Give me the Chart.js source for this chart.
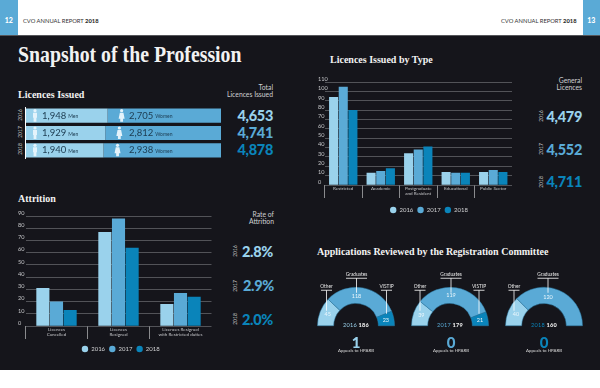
<!DOCTYPE html>
<html>
<head>
<meta charset="utf-8">
<title>Snapshot of the Profession</title>
<script src="https://cdn.jsdelivr.net/npm/chart.js@4/dist/chart.umd.min.js"></script>
<style>
  html, body { margin: 0; padding: 0; background: #fff; }
  #page { position: relative; width: 600px; height: 388px; overflow: hidden; font-family: Lato, sans-serif; background: #fff; }
  #dark { position: absolute; left: 0; top: 35px; width: 600px; height: 335px; background: #15151b; border-top: 1px solid #55565a; box-sizing: border-box; }
  .tab { position: absolute; top: 0; width: 17.5px; height: 35px; background: #5aaad6; color: #fff; font-weight: 900; font-size: 7px; line-height: 41px; text-align: center; }
  .hdr { position: absolute; top: 16.5px; font-size: 5.8px; color: #333; line-height: 8px; white-space: nowrap; }
  .hdr b { font-weight: 900; }
  .txt, .num, .head, .yr { position: absolute; white-space: nowrap; }
  .head { font-family: "Liberation Serif", serif; font-weight: 700; color: #f2f2f2; font-size: 10px; line-height: 13px; }
  .lbl { position: absolute; font-size: 6.8px; line-height: 7.4px; color: #cfd0d2; text-align: right; white-space: nowrap; }
  .num { font-weight: 900; font-size: 14.5px; line-height: 18px; letter-spacing: -0.3px; text-align: right; }
  .yr { font-size: 5px; line-height: 6px; color: #c8c8c8; transform: translate(-50%, -50%) rotate(-90deg); }
  .c1 { color: #9ad2ec; } .c2 { color: #5aaad6; } .c3 { color: #0a84ba; }
  .center { position: absolute; font-size: 5.6px; line-height: 7px; color: #eee; letter-spacing: 0.2px; transform: translateX(-50%); white-space: nowrap; }
  .center b { font-weight: 900; }
  .big { position: absolute; font-weight: 900; font-size: 15px; line-height: 18px; transform: translateX(-50%); }
  .small { position: absolute; font-size: 4.4px; line-height: 5px; color: #ddd; transform: translateX(-50%); white-space: nowrap; }
  canvas { position: absolute; }
</style>
</head>
<body>
<div id="page">
  <div class="tab" style="left:0">12</div>
  <div class="tab" style="left:582.5px">13</div>
  <div class="hdr" style="left:23px">CVO ANNUAL REPORT <b>2018</b></div>
  <div class="hdr" style="left:501px">CVO ANNUAL REPORT <b>2018</b></div>
  <div id="dark"></div>

  <div class="head" style="left:18px;top:41px;font-size:22.5px;line-height:28px;transform:scaleX(0.88);transform-origin:left">Snapshot of the Profession</div>
  <div class="head" style="left:18px;top:87.5px">Licences Issued</div>
  <div class="head" style="left:18px;top:191.5px">Attrition</div>
  <div class="head" style="left:330px;top:52.5px">Licences Issued by Type</div>
  <div class="head" style="left:317px;top:244.5px">Applications Reviewed by the Registration Committee</div>

  <div class="lbl" style="right:327px;top:84px">Total<br>Licences Issued</div>
  <div class="num c1" style="right:327px;top:107px">4,653</div>
  <div class="num c2" style="right:327px;top:124px">4,741</div>
  <div class="num c3" style="right:327px;top:141px">4,878</div>
  <div class="yr" style="left:20px;top:115px">2016</div>
  <div class="yr" style="left:20px;top:132px">2017</div>
  <div class="yr" style="left:20px;top:149px">2018</div>

  <div class="lbl" style="right:326px;top:211px">Rate of<br>Attrition</div>
  <div class="num c1" style="right:327px;top:243px">2.8%</div>
  <div class="num c2" style="right:326px;top:277px">2.9%</div>
  <div class="num c3" style="right:327px;top:311px">2.0%</div>
  <div class="yr" style="left:235px;top:251px">2016</div>
  <div class="yr" style="left:235px;top:286px">2017</div>
  <div class="yr" style="left:235px;top:319px">2018</div>

  <div class="lbl" style="right:18px;top:77px">General<br>Licences</div>
  <div class="num c1" style="right:18px;top:108px">4,479</div>
  <div class="num c2" style="right:18px;top:141px">4,552</div>
  <div class="num c3" style="right:18px;top:173px">4,711</div>
  <div class="yr" style="left:541px;top:116px">2016</div>
  <div class="yr" style="left:541px;top:149px">2017</div>
  <div class="yr" style="left:541px;top:182px">2018</div>

  <canvas id="chart-licences" width="200" height="52" style="left:24px;top:107px"></canvas>
  <canvas id="chart-attrition" width="225" height="149" style="left:0;top:210px"></canvas>
  <canvas id="chart-type" width="225" height="142" style="left:300px;top:76px"></canvas>
  <canvas id="chart-app-2016" width="96" height="65" style="left:308px;top:268px"></canvas>
  <canvas id="chart-app-2017" width="96" height="65" style="left:402px;top:268px"></canvas>
  <canvas id="chart-app-2018" width="96" height="65" style="left:496px;top:268px"></canvas>

  <div class="center" style="left:356px;top:320.5px"><span class="c1">2016</span> <b>186</b></div>
  <div class="center" style="left:450px;top:320.5px"><span class="c2">2017</span> <b>179</b></div>
  <div class="center" style="left:544px;top:320.5px"><span class="c3">2018</span> <b>160</b></div>
  <div class="big c1" style="left:356px;top:332.5px">1</div>
  <div class="big c2" style="left:451px;top:332.5px">0</div>
  <div class="big c3" style="left:544px;top:332.5px">0</div>
  <div class="small" style="left:356px;top:348px">Appeals to HPARB</div>
  <div class="small" style="left:451px;top:348px">Appeals to HPARB</div>
  <div class="small" style="left:544px;top:348px">Appeals to HPARB</div>
</div>

<script>
const years = ["2016", "2017", "2018"];
const color2016 = "#9ad2ec";
const color2017 = "#5aaad6";
const color2018 = "#0a84ba";

// licences issued, men and women per year
const licencesMen = [1948, 1929, 1940];
const licencesWomen = [2705, 2812, 2938];

// attrition bars
const attritionLabels = [["Licences", "Cancelled"], ["Licences", "Resigned"], ["Licences Resigned", "with Restricted duties"]];
const attrition2016 = [31, 77, 18];
const attrition2017 = [20, 88, 27];
const attrition2018 = [13, 64, 24];

// licences by type bars
const typeLabels = ["Restricted", "Academic", ["Postgraduate", "and Resident"], "Educational", "Public Sector"];
const type2016 = [94, 13, 34, 14, 14];
const type2017 = [105, 15, 38, 13, 16];
const type2018 = [80, 18, 41, 13, 14];

// registration committee half doughnuts
const appLabels = ["Other", "Graduates", "VISTIP"];
const app2016 = [45, 118, 23];
const app2017 = [39, 119, 21];
const app2018 = [40, 120, 0];

const gridColor = "#6d6e72";
const tickText = "#c4c5c8";

function personIcon(ctx, x, y, woman) {
  ctx.fillStyle = "#e4f3fb";
  ctx.beginPath();
  ctx.arc(x, y - 5, 1.6, 0, Math.PI * 2);
  ctx.fill();
  ctx.beginPath();
  if (woman) {
    ctx.moveTo(x - 1.8, y - 3);
    ctx.lineTo(x + 1.8, y - 3);
    ctx.lineTo(x + 3, y + 3);
    ctx.lineTo(x + 1.4, y + 3);
    ctx.lineTo(x + 1.4, y + 6);
    ctx.lineTo(x - 1.4, y + 6);
    ctx.lineTo(x - 1.4, y + 3);
    ctx.lineTo(x - 3, y + 3);
  } else {
    ctx.rect(x - 2, y - 3, 4, 5);
    ctx.rect(x - 1.4, y + 2, 2.8, 4);
  }
  ctx.fill();
}

// draws the icons and numbers inside the stacked bars, and the white axis line
const licenceText = {
  id: "licenceText",
  afterDatasetsDraw(chart) {
    const ctx = chart.ctx;
    const area = chart.chartArea;
    ctx.save();
    ctx.strokeStyle = "#fff";
    ctx.lineWidth = 1;
    ctx.beginPath();
    ctx.moveTo(area.left - 0.5, area.top);
    ctx.lineTo(area.left - 0.5, area.bottom);
    ctx.stroke();
    ctx.textBaseline = "middle";
    chart.getDatasetMeta(0).data.forEach((bar, i) => {
      const y = bar.y;
      const womenBar = chart.getDatasetMeta(1).data[i];
      personIcon(ctx, area.left + 9, y, false);
      personIcon(ctx, womenBar.base + 14, y, true);
      ctx.fillStyle = "#1c3b50";
      ctx.font = "9.5px Lato";
      const menText = licencesMen[i].toLocaleString("en-US");
      const womenText = licencesWomen[i].toLocaleString("en-US");
      ctx.textAlign = "left";
      ctx.fillText(menText, 18, y);
      const menWidth = ctx.measureText(menText).width;
      ctx.fillText(womenText, 105, y);
      const womenWidth = ctx.measureText(womenText).width;
      ctx.font = "5px Lato";
      ctx.fillText("Men", 18 + menWidth + 2, y + 1);
      ctx.fillText("Women", 105 + womenWidth + 2, y + 1);
    });
    ctx.restore();
  },
};

new Chart(document.getElementById("chart-licences"), {
  type: "bar",
  data: {
    labels: years,
    datasets: [
      {
        label: "Men",
        data: licencesMen.map((m, i) => (m / (m + licencesWomen[i])) * 100),
        backgroundColor: color2016,
        borderWidth: 0,
      },
      {
        label: "Women",
        data: licencesWomen.map((w, i) => (w / (w + licencesMen[i])) * 100),
        backgroundColor: color2017,
        borderWidth: 0,
      },
    ],
  },
  options: {
    indexAxis: "y",
    responsive: false,
    animation: false,
    layout: { padding: { left: 2, right: 3 } },
    plugins: { legend: { display: false }, tooltip: { enabled: false } },
    datasets: { bar: { categoryPercentage: 1, barPercentage: 0.82 } },
    scales: {
      x: { display: false, stacked: true, min: 0, max: 100 },
      y: { display: false, stacked: true },
    },
  },
  plugins: [licenceText],
});

// legend sits off centre from the plot in the reference
function legendShift(dx, dy) {
  return {
    id: "legendShift",
    afterLayout(chart) {
      chart.legend.left += dx;
      chart.legend.right += dx;
      chart.legend.top += dy;
      chart.legend.bottom += dy;
    },
  };
}

function barChart(id, labels, d2016, d2017, d2018, maxY, opts) {
  return new Chart(document.getElementById(id), {
    type: "bar",
    data: {
      labels: labels,
      datasets: [
        { label: "2016", data: d2016, backgroundColor: color2016, borderWidth: 0 },
        { label: "2017", data: d2017, backgroundColor: color2017, borderWidth: 0 },
        { label: "2018", data: d2018, backgroundColor: color2018, borderWidth: 0 },
      ],
    },
    options: {
      responsive: false,
      animation: false,
      layout: { padding: { top: 6, right: opts.right } },
      datasets: { bar: { categoryPercentage: opts.catPct, barPercentage: opts.barPct } },
      plugins: {
        tooltip: { enabled: false },
        legend: {
          position: "bottom",
          labels: {
            color: "#d0d1d3",
            font: { family: "Lato", size: 6 },
            usePointStyle: true,
            pointStyle: "circle",
            boxHeight: 4.5,
            pointStyleWidth: 6.4,
            padding: 4,
          },
        },
      },
      scales: {
        x: {
          afterFit(scale) { scale.height = 13; },
          border: { display: false },
          grid: {
            drawOnChartArea: false,
            drawTicks: true,
            tickLength: 13,
            tickColor: (c) => (c.index === undefined ? "transparent" : "#8a8b8e"),
          },
          ticks: {
            color: tickText,
            font: { family: "Lato", size: 4.6, lineHeight: 0.95 },
            padding: -11.5,
            maxRotation: 0,
            autoSkip: false,
          },
        },
        y: {
          min: 0,
          max: maxY,
          afterFit(scale) { scale.width = opts.yWidth; },
          border: { display: false },
          grid: { color: gridColor, lineWidth: 0.7, drawTicks: false },
          ticks: {
            stepSize: 10,
            autoSkip: false,
            color: tickText,
            font: { family: "Lato", size: 5.6 },
            mirror: true,
            crossAlign: "near",
            padding: -opts.labelBack,
            labelOffset: -3,
          },
        },
      },
    },
    plugins: [legendShift(opts.shift, opts.shiftY)],
  });
}

barChart("chart-attrition", attritionLabels, attrition2016, attrition2017, attrition2018, 90, {
  yWidth: 25.5, labelBack: 7.5, right: 13.5, catPct: 0.66, barPct: 0.96, shift: 15, shiftY: 3,
});
barChart("chart-type", typeLabels, type2016, type2017, type2018, 110, {
  yWidth: 24.5, labelBack: 6.5, right: 13, catPct: 0.772, barPct: 0.94, shift: 23, shiftY: 5,
});

// leader lines: x offset from the centre of the arc, the bar height above the
// baseline and how far down the stem goes
function leaderPlugin(leaders) {
  return {
    id: "leaders",
    afterDatasetsDraw(chart) {
      const ctx = chart.ctx;
      const arcs = chart.getDatasetMeta(0).data;
      ctx.save();
      ctx.textAlign = "center";
      arcs.forEach((arc, i) => {
        const value = chart.data.datasets[0].data[i];
        if (!value) return;
        const c = arc.getCenterPoint();
        const lead = leaders[i];
        const x = arc.x + lead.dx;
        const top = arc.y - lead.up;
        const end = arc.y - lead.down;
        // number in the slice
        ctx.fillStyle = "#eaf6fc";
        ctx.font = "5.5px Lato";
        ctx.textBaseline = "middle";
        ctx.fillText(String(value), i === 1 ? x : c.x, c.y);
        ctx.strokeStyle = "#fff";
        ctx.lineWidth = 0.8;
        ctx.beginPath();
        ctx.moveTo(x, top);
        ctx.lineTo(x, end);
        ctx.moveTo(x - lead.half, top);
        ctx.lineTo(x + lead.half, top);
        ctx.stroke();
        ctx.fillStyle = "#e8e8e8";
        ctx.font = "4.8px Lato";
        ctx.textBaseline = "bottom";
        ctx.fillText(appLabels[i], x, top - 1);
      });
      ctx.restore();
    },
  };
}

function appChart(id, data, leaders) {
  return new Chart(document.getElementById(id), {
    type: "doughnut",
    data: {
      labels: appLabels,
      datasets: [
        {
          data: data,
          backgroundColor: [color2016, color2017, color2018],
          borderColor: "#2f7fa8",
          borderWidth: 0.5,
        },
      ],
    },
    options: {
      responsive: false,
      animation: false,
      rotation: -90,
      circumference: 180,
      cutout: "58%",
      layout: { padding: { left: 8.5, right: 8.5, top: 19, bottom: 7 } },
      plugins: { legend: { display: false }, tooltip: { enabled: false } },
    },
    plugins: [leaderPlugin(leaders)],
  });
}

appChart("chart-app-2016", app2016, [
  { dx: -29.5, up: 35.5, down: 15, half: 5.5 },
  { dx: 0.5, up: 47.5, down: 33, half: 10.5 },
  { dx: 30.5, up: 35.5, down: 12, half: 5.5 },
]);
appChart("chart-app-2017", app2017, [
  { dx: -30, up: 35.5, down: 15, half: 5.5 },
  { dx: 1, up: 47.5, down: 33, half: 10.5 },
  { dx: 29, up: 35.5, down: 12, half: 5.5 },
]);
appChart("chart-app-2018", app2018, [
  { dx: -30, up: 35.5, down: 15, half: 5.5 },
  { dx: 4, up: 47.5, down: 33, half: 10.5 },
  { dx: 0, up: 0, down: 0, half: 0 },
]);
</script>
</body>
</html>
